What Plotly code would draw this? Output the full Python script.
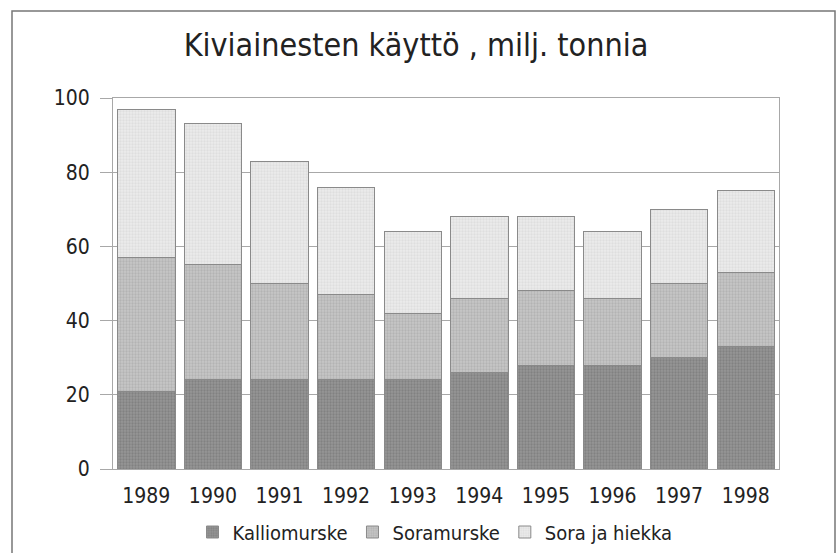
import plotly.graph_objects as go

years = ["1989", "1990", "1991", "1992", "1993", "1994", "1995", "1996", "1997", "1998"]
kalliomurske = [21, 24, 24, 24, 24, 26, 28, 28, 30, 33]
soramurske = [36, 31, 26, 23, 18, 20, 20, 18, 20, 20]
sora_ja_hiekka = [40, 38, 33, 29, 22, 22, 20, 18, 20, 22]
y_ticks = [0, 20, 40, 60, 80, 100]

FONT = "Liberation Sans Narrow, Arial Narrow, DejaVu Sans Condensed, sans-serif"

series = [
    ("Kalliomurske", kalliomurske, "#969696", "#6c6c6c"),
    ("Soramurske", soramurske, "#c6c6c6", "#a0a0a0"),
    ("Sora ja hiekka", sora_ja_hiekka, "#ececec", "#d0d0d0"),
]

fig = go.Figure()
for name, vals, bg, fg in series:
    fig.add_trace(go.Bar(
        name=name, x=years, y=vals,
        marker=dict(
            color=bg,
            line=dict(color="#8a8a8a", width=1),
            pattern=dict(shape=".", bgcolor=bg, fgcolor=fg, size=3, solidity=0.45),
        ),
    ))

fig.update_layout(
    barmode="stack",
    bargap=0.138,
    width=838, height=553,
    margin=dict(l=113, r=59, t=98, b=84, autoexpand=False),
    paper_bgcolor="white", plot_bgcolor="white",
    font=dict(family=FONT, color="#222", size=20),
    title=dict(text="Kiviainesten käyttö , milj. tonnia", x=0.455, xref="paper",
               xanchor="center", y=1 - 45 / 553, yanchor="middle",
               font=dict(size=32, family=FONT, color="#222")),
    legend=dict(orientation="h", x=0.4835, xanchor="center",
                yref="container", y=1 - 532 / 553, yanchor="middle",
                font=dict(size=20, family=FONT), traceorder="normal",
                itemwidth=30, tracegroupgap=0),
    showlegend=True,
)
fig.update_yaxes(range=[0, 100], tickvals=y_ticks, showgrid=True, gridcolor="#a8a8a8",
                 gridwidth=1, showline=True, linecolor="#a8a8a8", linewidth=1, mirror=True,
                 ticks="outside", ticklen=12, tickcolor="#a8a8a8", ticklabelstandoff=6,
                 automargin=False,
                 tickfont=dict(size=21, family=FONT, color="#222"), zeroline=False)
fig.update_xaxes(showline=True, linecolor="#a8a8a8", linewidth=1, mirror=True,
                 ticks="", ticklabelstandoff=8, automargin=False,
                 tickfont=dict(size=21, family=FONT, color="#222"))

fig.add_shape(type="rect", xref="paper", yref="paper",
              x0=(12 - 113) / 666, x1=(835 - 113) / 666,
              y0=-0.5, y1=(469 - 11) / 371,
              line=dict(color="#777", width=1.5), layer="below")

fig.write_html("out.html", config={"displayModeBar": False},
               post_script="document.body.style.margin='0';")
